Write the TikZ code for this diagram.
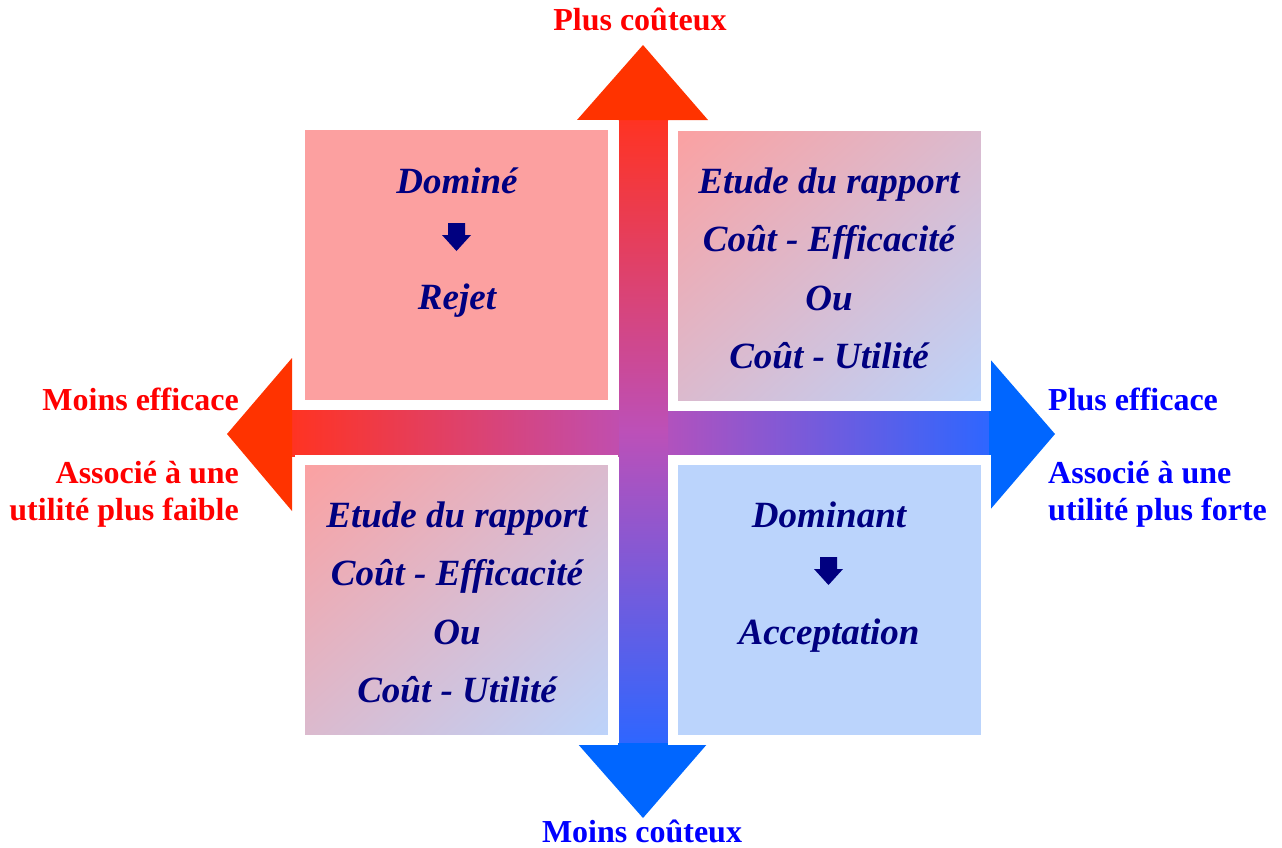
\documentclass[tikz,border=0pt]{standalone}
\usepackage{fontspec}
\setmainfont{Liberation Serif}
\usetikzlibrary{shadings}
\definecolor{headred}{HTML}{FF3300}
\definecolor{headblue}{HTML}{0066FF}
\definecolor{shaftred}{HTML}{FF3322}
\definecolor{shaftblue}{HTML}{2E66FF}
\definecolor{shaftmid}{HTML}{BC50B8}
\definecolor{boxpink}{HTML}{FCA0A0}
\definecolor{boxblue}{HTML}{BBD4FC}
\definecolor{boxmid}{HTML}{DBBACE}
\definecolor{navy}{HTML}{000080}
\definecolor{labred}{HTML}{FF0000}
\definecolor{labblue}{HTML}{0000FF}
\tikzset{
  boxtext/.style={text=navy, font=\fontsize{37}{44}\selectfont\bfseries\itshape, inner sep=0pt, anchor=base},
  redlab/.style={text=labred, font=\fontsize{32}{38}\selectfont\bfseries, inner sep=0pt},
  bluelab/.style={text=labblue, font=\fontsize{32}{38}\selectfont\bfseries, inner sep=0pt},
  quad/.style={draw=white, line width=10pt, minimum width=313pt, minimum height=280pt, inner sep=0pt, outer sep=0pt},
  gradquad/.style={quad, upper left=boxpink, lower right=boxblue, upper right=boxmid, lower left=boxmid},
}
\begin{document}
\begin{tikzpicture}[x=1pt,y=-1pt]
\useasboundingbox (0,0) rectangle (1282,847);
% shafts
\shade[left color=shaftred, right color=shaftblue, middle color=shaftmid] (291,410) rectangle (990,456);
\shade[top color=shaftred, bottom color=shaftblue, middle color=shaftmid] (619,119) rectangle (668,744);
% heads
\fill[headred] (577,120) -- (643,45) -- (708,120) -- cycle;
\fill[headblue] (577,743) -- (643,818) -- (708,743) -- cycle;
\fill[headred] (292,358) -- (227,434) -- (292,511) -- cycle;
\fill[headblue] (989,358) -- (1055,434) -- (989,511) -- cycle;
% quadrants
\node[quad, fill=boxpink] (tl) at (456.5,264.5) {};
\node[gradquad] (tr) at (829,265.5) {};
\node[gradquad] (bl) at (456.5,600) {};
\node[quad, fill=boxblue] (br) at (829,600) {};
% texts in quadrants
\node[boxtext] (tl1) at (457,193) {Dominé};
\fill[navy] (448,223) -- (465,223) -- (465,235) -- (471,235) -- (456.5,251) -- (442,235) -- (448,235) -- cycle;
\node[boxtext] (tl2) at (457,309) {Rejet};
\node[boxtext] (tr1) at (829,193) {Etude du rapport};
\node[boxtext] (tr2) at (829,251) {Coût - Efficacité};
\node[boxtext] (tr3) at (829,310) {Ou};
\node[boxtext] (tr4) at (829,368) {Coût - Utilité};
\node[boxtext] (bl1) at (457,527) {Etude du rapport};
\node[boxtext] (bl2) at (457,585) {Coût - Efficacité};
\node[boxtext] (bl3) at (457,644) {Ou};
\node[boxtext] (bl4) at (457,702) {Coût - Utilité};
\node[boxtext] (br1) at (829,527) {Dominant};
\fill[navy] (820,557) -- (837,557) -- (837,569) -- (843,569) -- (828.5,585) -- (814,569) -- (820,569) -- cycle;
\node[boxtext] (br2) at (829,644) {Acceptation};
% axis labels
\node[redlab, anchor=base] (top) at (640,30) {Plus coûteux};
\node[bluelab, anchor=base, text depth=0pt] (bot) at (642,842) {Moins coûteux};
\node[redlab, anchor=base east] (l1) at (239,410) {Moins efficace};
\node[redlab, anchor=base east] (l2) at (239,483) {Associé à une};
\node[redlab, anchor=base east] (l3) at (239,520) {utilité plus faible};
\node[bluelab, anchor=base west] (r1) at (1048,410) {Plus efficace};
\node[bluelab, anchor=base west] (r2) at (1048,483) {Associé à une};
\node[bluelab, anchor=base west] (r3) at (1048,520) {utilité plus forte};
\end{tikzpicture}
\end{document}
